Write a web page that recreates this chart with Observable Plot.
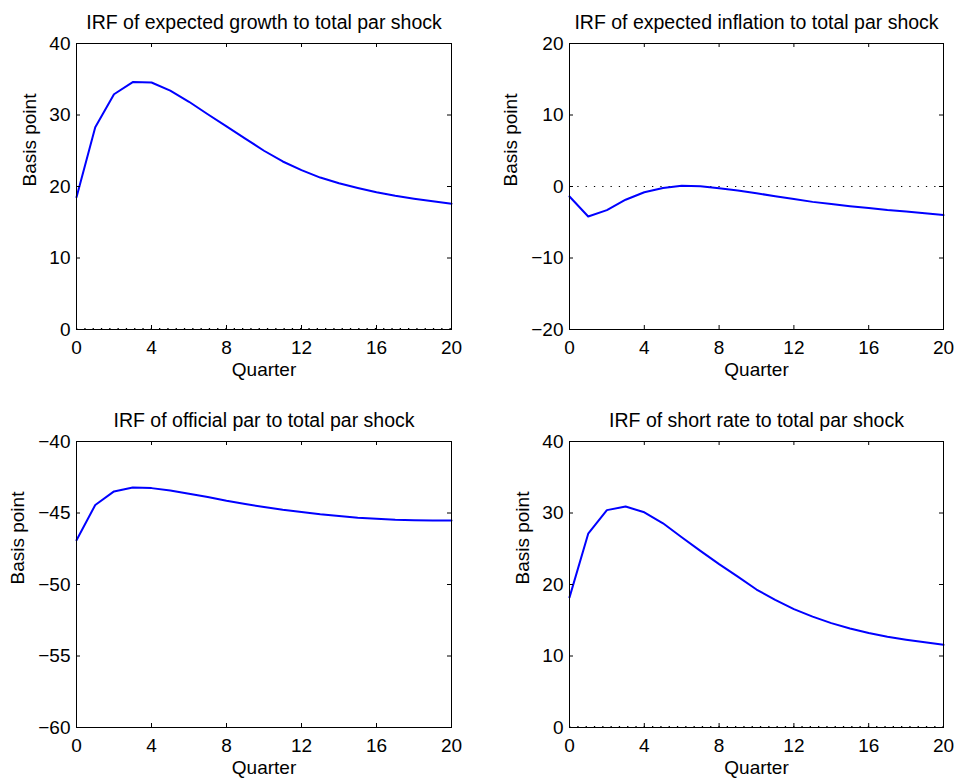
<!DOCTYPE html>
<html><head><meta charset="utf-8">
<script src="https://cdn.jsdelivr.net/npm/d3@7"></script>
<script src="https://cdn.jsdelivr.net/npm/@observablehq/plot@0.6"></script>
<style>
body{margin:0;background:#fff;}
#root{position:relative;width:961px;height:783px;overflow:hidden;background:#fff;}
.panel{position:absolute;}
</style></head><body><div id="root"></div>
<script>
const quarters = [0,1,2,3,4,5,6,7,8,9,10,11,12,13,14,15,16,17,18,19,20];
const xTicks = [0,4,8,12,16,20];

const titles = [
  "IRF of expected growth to total par shock",
  "IRF of expected inflation to total par shock",
  "IRF of official par to total par shock",
  "IRF of short rate to total par shock"
];

const growth = [18.5,28.3,32.9,34.6,34.55,33.4,31.85,30.1,28.4,26.7,25.0,23.5,22.3,21.25,20.45,19.8,19.2,18.7,18.3,17.95,17.6];
const inflation = [-1.4,-4.2,-3.3,-1.85,-0.8,-0.2,0.1,0.05,-0.25,-0.55,-0.95,-1.35,-1.75,-2.15,-2.45,-2.75,-3.0,-3.3,-3.5,-3.75,-4.0];
const officialPar = [-46.9,-44.44,-43.49,-43.21,-43.26,-43.42,-43.65,-43.88,-44.14,-44.37,-44.58,-44.77,-44.93,-45.09,-45.21,-45.33,-45.40,-45.47,-45.51,-45.53,-45.53];
const shortRate = [18.2,27.1,30.4,30.9,30.1,28.56,26.6,24.7,22.85,21.1,19.3,17.85,16.55,15.5,14.6,13.85,13.22,12.68,12.28,11.93,11.57];

const yTicks1 = [0,10,20,30,40];
const yTicks2 = [-20,-10,0,10,20];
const yTicks3 = [-60,-55,-50,-45,-40];
const yTicks4 = [0,10,20,30,40];

const xLabel = "Quarter";
const yLabel = "Basis point";

const FONT = "'Liberation Sans', Arial, Helvetica, sans-serif";

function makePanel(cfg) {
  const {title, values, yTicks, left, top, width, height, mL, mR, mT, mB, ylabelDx} = cfg;
  const innerW = width - mL - mR;
  const innerH = height - mT - mB;
  const yDomain = [yTicks[0], yTicks[yTicks.length - 1]];
  const data = quarters.map((q, i) => ({q, v: values[i]}));
  const marks = [];
  if (yDomain[0] <= 0 && yDomain[1] >= 0) {
    marks.push(Plot.ruleY([0], {y: d => d, stroke: "black", strokeWidth: 1, strokeDasharray: "1.3,7", dy: yDomain[0] === 0 ? -1 : 0}));
  }
  marks.push(Plot.lineY(data, {x: "q", y: "v", stroke: "#0000ff", strokeWidth: 2}));
  marks.push(Plot.frame({stroke: "black", strokeWidth: 1}));
  marks.push(Plot.ruleX(xTicks, {x: d => d, insetTop: innerH - 4, stroke: "black"}));
  marks.push(Plot.ruleX(xTicks, {x: d => d, insetBottom: innerH - 4, stroke: "black"}));
  marks.push(Plot.ruleY(yTicks, {y: d => d, insetRight: innerW - 4, stroke: "black"}));
  marks.push(Plot.ruleY(yTicks, {y: d => d, insetLeft: innerW - 4, stroke: "black"}));
  marks.push(Plot.axisX(xTicks, {anchor: "bottom", tickSize: 0, tickPadding: 11, label: null, fill: "black"}));
  marks.push(Plot.axisY(yTicks, {anchor: "left", tickSize: 0, tickPadding: 6, label: null, fill: "black"}));
  marks.push(Plot.text([title], {text: d => d, frameAnchor: "top", dy: -15, lineAnchor: "bottom", fill: "black", fontSize: 19.5}));
  marks.push(Plot.text([xLabel], {text: d => d, frameAnchor: "bottom", dy: 46, lineAnchor: "bottom", fill: "black"}));
  marks.push(Plot.text([yLabel], {text: d => d, frameAnchor: "left", dx: ylabelDx, rotate: -90, lineAnchor: "middle", fill: "black"}));

  const svg = Plot.plot({
    width, height,
    marginLeft: mL, marginRight: mR, marginTop: mT, marginBottom: mB,
    x: {domain: [0, 20], axis: null},
    y: {domain: yDomain, axis: null},
    style: {fontFamily: FONT, fontSize: "19px", color: "black", background: "transparent", overflow: "visible"},
    marks
  });
  const wrap = document.createElement("div");
  wrap.className = "panel";
  wrap.style.left = left + "px";
  wrap.style.top = top + "px";
  wrap.appendChild(svg);
  document.getElementById("root").appendChild(wrap);
}

makePanel({title: titles[0], values: growth, yTicks: yTicks1, left: 0, top: 0, width: 480, height: 390, mL: 76, mR: 29, mT: 43, mB: 61, ylabelDx: -47});
makePanel({title: titles[1], values: inflation, yTicks: yTicks2, left: 480, top: 0, width: 481, height: 390, mL: 89, mR: 18, mT: 43, mB: 61, ylabelDx: -59});
makePanel({title: titles[2], values: officialPar, yTicks: yTicks3, left: 0, top: 390, width: 480, height: 393, mL: 76, mR: 29, mT: 51, mB: 56, ylabelDx: -59});
makePanel({title: titles[3], values: shortRate, yTicks: yTicks4, left: 480, top: 390, width: 481, height: 393, mL: 89, mR: 18, mT: 51, mB: 56, ylabelDx: -47});
</script>
</body></html>
